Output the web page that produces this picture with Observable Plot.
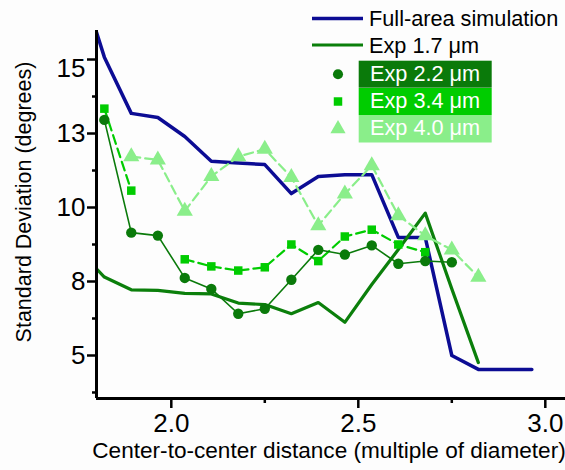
<!DOCTYPE html>
<html>
<head>
<meta charset="utf-8">
<script src="https://cdn.jsdelivr.net/npm/d3@7"></script>
<script src="https://cdn.jsdelivr.net/npm/@observablehq/plot@0.6"></script>
<style>
  html, body { margin: 0; padding: 0; background: #fdfdfd; }
  #wrap { position: relative; width: 565px; height: 470px; font-family: "Liberation Sans", Arial, sans-serif; }
  #legend { position: absolute; left: 0; top: 0; pointer-events: none; }
</style>
</head>
<body>
<div id="wrap">
  <div id="chart"></div>
  <svg id="legend" width="565" height="470"></svg>
</div>
<script>
// Center-to-center distance, in multiples of the diameter
const simDist = [1.800, 1.821, 1.893, 1.964, 2.036, 2.107, 2.179, 2.250, 2.321, 2.393, 2.464, 2.536, 2.607, 2.679, 2.750, 2.821, 2.893, 2.964];
const dist = [1.821, 1.893, 1.964, 2.036, 2.107, 2.179, 2.250, 2.321, 2.393, 2.464, 2.536, 2.607, 2.679, 2.750, 2.821];

// Standard deviation (degrees) per series
const fullArea = [15.92, 15.08, 13.18, 13.04, 12.40, 11.56, 11.50, 11.45, 10.47, 11.05, 11.11, 11.11, 8.99, 8.99, 5.00, 4.53, 4.53, 4.53];
const exp17 = [7.93, 7.65, 7.22, 7.20, 7.10, 7.08, 6.77, 6.72, 6.41, 6.79, 6.12, 7.40, 8.58, 9.81, 7.25, 4.76];
const exp22 = [12.96, 9.15, 9.05, 7.62, 7.25, 6.41, 6.58, 7.56, 8.57, 8.41, 8.72, 8.10, 8.19, 8.15];
const exp34 = [13.34, 10.57, NaN, 8.25, 8.01, 7.87, 7.98, 8.75, 8.19, 9.02, 9.25, 8.75, 8.49];
const exp40 = [NaN, 11.72, 11.61, 9.88, 11.05, 11.72, 11.97, 11.02, 9.39, 10.46, 11.42, 9.73, 9.05, 8.57, 7.65];

// Axis ticks
const xMajor = [2.0, 2.5, 3.0];
const xMinor = [2.25, 2.75];
const yMajor = [5, 7.5, 10, 12.5, 15];
const yMinor = [3.75, 6.25, 8.75, 11.25, 13.75];

const xTitle = "Center-to-center distance (multiple of diameter)";
const yTitle = "Standard Deviation (degrees)";
const legendLabels = ["Full-area simulation", "Exp 1.7 \u03bcm", "Exp 2.2 \u03bcm", "Exp 3.4 \u03bcm", "Exp 4.0 \u03bcm"];

const colors = {
  sim: "#0c0c94",
  e17: "#0b7f0b",
  e22: "#0a7a0a",
  e34: "#00cc00",
  e40: "#8aee8a"
};

const pts = (xs, ys) => ys.map((v, i) => ({x: xs[i], y: v}));
const simData = pts(simDist, fullArea);
const e17Data = pts(simDist, exp17);
const e22Data = pts(dist, exp22);
const e34Data = pts(dist, exp34);
const e40Data = pts(dist, exp40);

const xMin = 1.8, yMin = 3.547;
const font = "'Liberation Sans', Arial, sans-serif";

const chart = Plot.plot({
  width: 565,
  height: 470,
  marginLeft: 96,
  marginRight: 0,
  marginTop: 30,
  marginBottom: 72,
  style: {fontFamily: font, background: "transparent", color: "#000", overflow: "visible"},
  x: {domain: [xMin, 3.054]},
  y: {domain: [yMin, 15.98]},
  marks: [
    // series lines
    Plot.line(simData, {x: "x", y: "y", stroke: colors.sim, strokeWidth: 3.5, clip: true}),
    Plot.line(e17Data, {x: "x", y: "y", stroke: colors.e17, strokeWidth: 3.2, clip: true}),
    Plot.line(e40Data, {x: "x", y: "y", stroke: colors.e40, strokeWidth: 2.2, strokeDasharray: "9,5"}),
    Plot.line(e34Data, {x: "x", y: "y", stroke: colors.e34, strokeWidth: 2.2, strokeDasharray: "9,5"}),
    Plot.line(e22Data, {x: "x", y: "y", stroke: colors.e22, strokeWidth: 1.6}),
    // markers
    Plot.dot(e40Data, {x: "x", y: "y", symbol: "triangle", r: 6, fill: colors.e40, stroke: "none"}),
    Plot.dot(e34Data, {x: "x", y: "y", symbol: "square", r: 4.8, fill: colors.e34, stroke: "none"}),
    Plot.dot(e22Data, {x: "x", y: "y", symbol: "circle", r: 5.2, fill: colors.e22, stroke: "none"}),
    // axis lines
    Plot.ruleX([xMin], {stroke: "#000", strokeWidth: 3}),
    Plot.ruleY([yMin], {stroke: "#000", strokeWidth: 3}),
    // x axis
    Plot.axisX(xMinor, {tickSize: 5, strokeWidth: 2.5, tickFormat: () => "", label: null}),
    Plot.axisX(xMajor, {tickSize: 10, tickPadding: 5, strokeWidth: 2.5, fontSize: 26, tickFormat: d3.format(".1f"), label: null}),
    // y axis
    Plot.axisY(yMinor, {tickSize: 4, strokeWidth: 2.5, tickFormat: () => "", label: null}),
    Plot.axisY(yMajor, {tickSize: 9, strokeWidth: 2.5, tickFormat: () => "", label: null}),
    Plot.axisY(yMajor.slice(0, 4), {tickSize: 9, tickPadding: 2, strokeOpacity: 0, fontSize: 26, tickFormat: d => Math.round(d), label: null}),
    Plot.axisY(yMajor.slice(4), {tickSize: 9, tickPadding: 2, strokeOpacity: 0, fontSize: 26, dy: 9, tickFormat: d => Math.round(d), label: null}),
    // x axis title
    Plot.text([xTitle], {frameAnchor: "bottom", text: d => d, fontSize: 22.6, dx: -2, dy: 59, fill: "#000"})
  ]
});
document.getElementById("chart").appendChild(chart);

// y axis title and legend, laid over the plot
const leg = d3.select("#legend");
leg.append("text")
  .attr("transform", "translate(23,202) rotate(-90)")
  .attr("text-anchor", "middle").attr("dy", "0.35em")
  .attr("font-family", font).attr("font-size", 21.5).attr("fill", "#000")
  .text(yTitle);

const lineRows = [
  {label: legendLabels[0], color: colors.sim, width: 3.5, y: 18.5, base: 26},
  {label: legendLabels[1], color: colors.e17, width: 3.2, y: 45, base: 53}
];
lineRows.forEach(r => {
  leg.append("line").attr("x1", 312).attr("x2", 363).attr("y1", r.y).attr("y2", r.y)
    .attr("stroke", r.color).attr("stroke-width", r.width);
  leg.append("text").attr("x", 369).attr("y", r.base).attr("font-family", font)
    .attr("font-size", 21.7).attr("fill", "#000").text(r.label);
});
const boxRows = [
  {label: legendLabels[2], color: colors.e22, top: 60.7, h: 27, base: 81, sym: d3.symbolCircle, size: 80},
  {label: legendLabels[3], color: colors.e34, top: 88, h: 27, base: 108, sym: d3.symbolSquare, size: 72},
  {label: legendLabels[4], color: colors.e40, top: 115, h: 27.5, base: 135, sym: d3.symbolTriangle, size: 100}
];
boxRows.forEach(r => {
  leg.append("rect").attr("x", 358.7).attr("y", r.top).attr("width", 133).attr("height", r.h)
    .attr("fill", r.color);
  leg.append("text").attr("x", 370).attr("y", r.base).attr("font-family", font)
    .attr("font-size", 21.7).attr("fill", "#fff").text(r.label);
  leg.append("path").attr("d", d3.symbol(r.sym, r.size)())
    .attr("transform", `translate(338,${r.top + r.h / 2})`).attr("fill", r.color);
});
</script>
</body>
</html>
